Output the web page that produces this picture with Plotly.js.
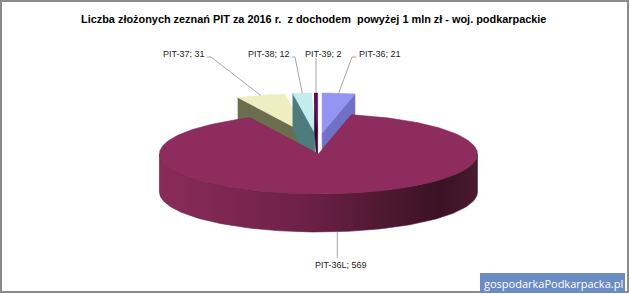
<!DOCTYPE html>
<html><head><meta charset="utf-8">
<script src="https://cdn.plot.ly/plotly-3.0.1.min.js"></script>
<style>html,body{margin:0;padding:0;background:#fff}#chart{width:630px;height:294px}</style>
</head><body><div id="chart"></div>
<script>
// ---- data ----
const categories = ['PIT-36', 'PIT-36L', 'PIT-37', 'PIT-38', 'PIT-39'];
const values = [21, 569, 31, 12, 2];
const titleText = 'Liczba złożonych zeznań PIT za 2016 r.\u00a0 z dochodem\u00a0 powyżej 1 mln zł - woj. podkarpackie';
const watermarkText = 'gospodarkaPodkarpacka.pl';

// ---- styling / geometry (not data) ----
const topColors  = ['#9494F2', '#8E2D5D', '#EEEEC2', '#C4ECEC', '#5E0A55'];
const sideColors = ['#7070C6', '#6A2045', '#6C6C4E', '#4E7B7B', '#3A0535'];
const G = {cx: 318, cy: 150, a: 159, b: 40, depth: 38, exX: 40, exY: 17, exMain: 4};
const labelCfg = {
  'PIT-36':  {x: 357, y: 54, xanchor: 'left',   via: [[352, 57], [356, 57]]},
  'PIT-37':  {x: 207, y: 54, xanchor: 'right',  via: [[211, 57], [207, 57]]},
  'PIT-38':  {x: 292, y: 54, xanchor: 'right',  via: [[295, 57], [292, 57]]},
  'PIT-39':  {x: 303, y: 54, xanchor: 'left',   via: 'vertical'},
  'PIT-36L': {x: 341, y: 265, xanchor: 'center', via: 'down'}
};

const total = values.reduce((s, v) => s + v, 0);
const maxV = Math.max(...values);
const rad = d => d * Math.PI / 180;

// slices: angles clockwise from 12 o'clock
let acc = 0;
const slices = values.map((v, i) => {
  const t1 = acc / total * 360; acc += v;
  const t2 = acc / total * 360;
  const mid = (t1 + t2) / 2;
  const isMain = v === maxV;
  const dx = isMain ? G.exMain * Math.sin(rad(mid)) : G.exX * Math.sin(rad(mid));
  const dy = isMain ? -G.exMain * Math.cos(rad(mid)) : -G.exY * Math.cos(rad(mid));
  return {i, name: categories[i], v, t1, t2, mid, isMain, cx: G.cx + dx, cy: G.cy + dy};
});

function pt(s, th, down) {
  return [s.cx + G.a * Math.sin(rad(th)), s.cy - G.b * Math.cos(rad(th)) + (down ? G.depth : 0)];
}
function arc(s, from, to, down) {
  const n = Math.max(2, Math.ceil(Math.abs(to - from) / 1.5));
  const out = [];
  for (let k = 0; k <= n; k++) out.push(pt(s, from + (to - from) * k / n, down));
  return out;
}
function poly(points, color, extra) {
  const p = points.concat([points[0]]);
  return Object.assign({
    type: 'scatter', mode: 'lines', x: p.map(q => q[0]), y: p.map(q => q[1]),
    fill: 'toself', fillcolor: color, line: {width: 0.6, color: color},
    hoverinfo: 'skip', showlegend: false
  }, extra || {});
}
function cutFace(s, th) {
  const e1 = pt(s, th, false), e2 = pt(s, th, true);
  return [[s.cx, s.cy], e1, e2, [s.cx, s.cy + G.depth]];
}
function faceVisible(normal) { return Math.cos(rad(normal)) < -0.01; }

const traces = [];
// small slices first (they sit behind the big one)
const small = slices.filter(s => !s.isMain).sort((p, q) => Math.sin(rad(p.mid)) - Math.sin(rad(q.mid)));
small.forEach(s => {
  if (faceVisible(s.t1 - 90)) traces.push(poly(cutFace(s, s.t1), sideColors[s.i]));
  if (faceVisible(s.t2 + 90)) traces.push(poly(cutFace(s, s.t2), sideColors[s.i]));
  traces.push(poly([[s.cx, s.cy]].concat(arc(s, s.t1, s.t2, false)), topColors[s.i]));
});
// main slice: front wall + top
slices.filter(s => s.isMain).forEach(s => {
  const lo = Math.max(90, s.t1), hi = Math.min(270, s.t2);
  const wall = arc(s, lo, hi, false).concat(arc(s, hi, lo, true));
  traces.push(poly(wall, sideColors[s.i], {
    fillgradient: {type: 'horizontal', colorscale: [[0, '#8A2B5A'], [0.45, '#6E2148'], [0.88, '#3A1224'], [1, '#4A1A31']]},
    line: {width: 0.6, color: '#5A1A3A'}
  }));
  traces.push(poly([[s.cx, s.cy]].concat(arc(s, s.t1, s.t2, false)), topColors[s.i], {line: {width: 0.6, color: '#7E2652'}}));
});

// labels + leader lines
const annotations = [];
slices.forEach(s => {
  const c = labelCfg[s.name];
  annotations.push({x: c.x, y: c.y, xref: 'x', yref: 'y', text: s.name + '; ' + s.v, showarrow: false,
    xanchor: c.xanchor, yanchor: 'middle', font: {family: 'Liberation Sans, Arial, sans-serif', size: 9, color: '#222'}});
  let pts;
  if (s.isMain) {
    const p = pt(s, s.mid, true);
    pts = [p, [p[0], c.y - 7]];
  } else {
    const p = pt(s, s.mid, false);
    pts = c.via === 'vertical' ? [p, [p[0], c.y + 4]] : [p].concat(c.via);
  }
  traces.push({type: 'scatter', mode: 'lines', x: pts.map(q => q[0]), y: pts.map(q => q[1]),
    line: {color: '#A6A6A6', width: 1}, hoverinfo: 'skip', showlegend: false});
});

annotations.push({x: 553, y: 283, xref: 'x', yref: 'y', text: watermarkText, showarrow: false,
  xanchor: 'center', yanchor: 'middle', font: {family: 'Open Sans, sans-serif', size: 11, color: '#ffffff'}});

const layout = {
  width: 630, height: 294, margin: {l: 0, r: 0, t: 0, b: 0},
  paper_bgcolor: '#ffffff', plot_bgcolor: '#ffffff',
  xaxis: {range: [0, 630], visible: false, fixedrange: true},
  yaxis: {range: [294, 0], visible: false, fixedrange: true},
  title: {text: titleText, x: 0.498, xanchor: 'center', y: 1 - 19 / 294, yanchor: 'middle',
    font: {family: 'Liberation Sans, Arial, sans-serif', size: 10.9, color: '#000', weight: 'bold'}},
  shapes: [
    {type: 'rect', xref: 'x', yref: 'y', x0: 1, y0: 1, x1: 628, y1: 292, line: {color: '#8C8C8C', width: 2}, layer: 'above'},
    {type: 'rect', xref: 'x', yref: 'y', x0: 480, y0: 273, x1: 625, y1: 293, fillcolor: '#6A8BC3', line: {width: 0}, layer: 'above'}
  ],
  annotations: annotations
};

Plotly.newPlot('chart', traces, layout, {staticPlot: true, displayModeBar: false});
</script></body></html>
